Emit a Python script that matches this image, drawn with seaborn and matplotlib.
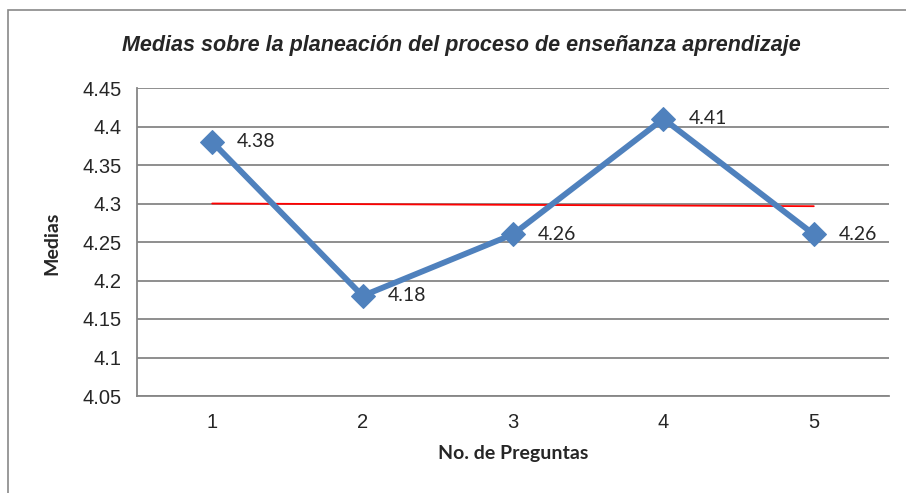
import pandas as pd
import matplotlib
matplotlib.use("Agg")
import matplotlib.pyplot as plt
import seaborn as sns
from matplotlib.patches import Rectangle

# data
preguntas = [1, 2, 3, 4, 5]
medias = [4.38, 4.18, 4.26, 4.41, 4.26]
tendencia_x = [1, 5]
tendencia_y = [4.300, 4.2965]
y_ticks = [4.05, 4.1, 4.15, 4.2, 4.25, 4.3, 4.35, 4.4, 4.45]

TITLE = "Medias sobre la planeación del proceso de enseñanza aprendizaje"
XLABEL = "No. de Preguntas"
YLABEL = "Medias"

BLUE = "#4F81BD"
GRID = "#868686"

sns.set_style("white")
plt.rcParams["font.family"] = ["Liberation Sans", "DejaVu Sans"]

df = pd.DataFrame({"pregunta": preguntas, "media": medias})
trend = pd.DataFrame({"x": tendencia_x, "y": tendencia_y})

fig = plt.figure(figsize=(9.06, 4.93), dpi=100)
ax = fig.add_axes([137 / 906, 1 - 396 / 493, (889 - 137) / 906, (396 - 88) / 493])

# outer chart border (Excel style)
fig.patches.append(Rectangle((8 / 906, -0.1), 1.2, 1.1 - 10 / 493, transform=fig.transFigure,
                             fill=False, edgecolor="#898989", linewidth=1.2, zorder=0))

for v in y_ticks:
    ax.axhline(v, color=GRID, linewidth=1.3, zorder=1)

sns.lineplot(data=trend, x="x", y="y", ax=ax, color="red", linewidth=1.3, zorder=2)
sns.lineplot(data=df, x="pregunta", y="media", ax=ax, color=BLUE, linewidth=4.2,
             marker="D", markersize=12, markeredgecolor=BLUE, zorder=3)

for x, y in zip(preguntas, medias):
    ax.annotate(f"{y:.2f}", (x, y), xytext=(18, 0), textcoords="offset points",
                ha="left", va="center", fontsize=14, family=["Lato", "DejaVu Sans"])

ax.set_xlim(0.5, 5.5)
ax.set_ylim(4.05, 4.45)
ax.set_yticks(y_ticks)
ax.set_yticklabels([f"{v:g}" for v in y_ticks])

# ticks between categories, labels at the categories
ax.set_xticks([0.5, 1.5, 2.5, 3.5, 4.5, 5.5])
ax.set_xticklabels([])
ax.set_xticks(preguntas, minor=True)
ax.set_xticklabels([str(p) for p in preguntas], minor=True)
ax.tick_params(axis="x", which="major", length=5, width=1.3, color=GRID, direction="out")
ax.tick_params(axis="x", which="minor", length=0, pad=12, labelsize=14.5)
ax.tick_params(axis="y", length=5, width=1.3, color=GRID, direction="out", pad=6, labelsize=14.5)

for side in ["top", "right"]:
    ax.spines[side].set_visible(False)
for side in ["left", "bottom"]:
    ax.spines[side].set_color(GRID)
    ax.spines[side].set_linewidth(1.3)

ax.set_xlabel("")
ax.set_ylabel("")
fig.text(513 / 906, 1 - 453 / 493, XLABEL, ha="center", va="center", fontsize=14,
         fontweight="bold", family=["Lato", "DejaVu Sans"])
fig.text(52 / 906, 1 - 243 / 493, YLABEL, ha="center", va="center", rotation=90,
         fontsize=14, fontweight="bold", family=["Lato", "DejaVu Sans"])
fig.text(461 / 906, 1 - 45 / 493, TITLE, ha="center", va="center", fontsize=15.5,
         fontweight="bold", fontstyle="italic")

fig.savefig("out.png", dpi=100)
